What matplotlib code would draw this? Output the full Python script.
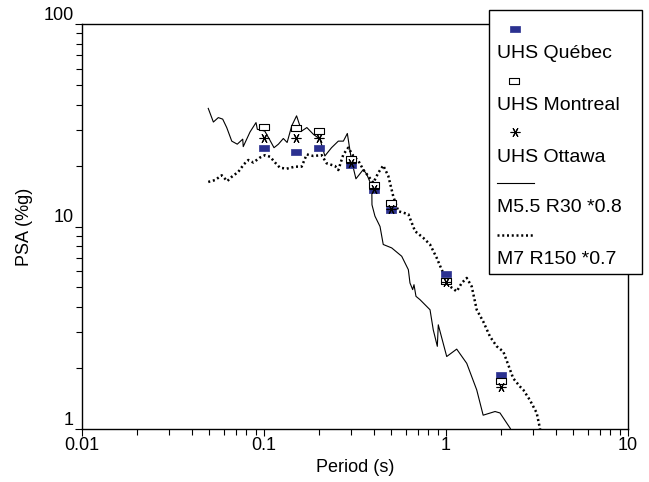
import matplotlib
matplotlib.use('Agg')
import matplotlib.pyplot as plt
from matplotlib.lines import Line2D
from matplotlib.patches import Rectangle
from matplotlib.ticker import NullFormatter

plt.rcParams['font.family'] = ['Liberation Sans', 'DejaVu Sans']

# UHS points
uhs_period = [0.1, 0.15, 0.2, 0.3, 0.4, 0.5, 1.0, 2.0]
uhs_quebec = [24.3, 23.2, 24.3, 20.2, 15.2, 12.0, 5.8, 1.84]
uhs_montreal = [31.0, 30.5, 29.5, 21.5, 16.1, 13.1, 5.4, 1.73]
uhs_ottawa = [27.5, 27.4, 27.3, 20.5, 15.4, 12.2, 5.3, 1.62]

# M5.5 R30 *0.8
m55_period = [0.0494, 0.0527, 0.0561, 0.0593, 0.0624, 0.0665, 0.0713, 0.0764, 0.0769, 0.0838,
              0.0904, 0.0919, 0.101, 0.107, 0.1135, 0.120, 0.1277, 0.134, 0.142, 0.151,
              0.161, 0.172, 0.187, 0.203, 0.216, 0.235, 0.256, 0.273, 0.287, 0.297,
              0.303, 0.320, 0.351, 0.367, 0.391, 0.392, 0.407, 0.434, 0.452, 0.503,
              0.571, 0.621, 0.634, 0.656, 0.667, 0.684, 0.72, 0.817, 0.851, 0.896,
              0.907, 1.009, 1.145, 1.30, 1.475, 1.60, 1.86, 1.98, 2.25, 2.4]
m55_psa = [38.3, 32.8, 34.5, 33.9, 30.8, 26.4, 25.5, 27.0, 24.8, 29.3,
           32.6, 30.2, 29.6, 27.0, 24.5, 25.5, 27.2, 26.0, 31.4, 35.2,
           29.6, 30.8, 28.5, 27.0, 22.3, 24.5, 26.4, 26.4, 28.8, 23.6,
           21.1, 17.2, 19.1, 18.1, 15.8, 12.8, 11.25, 10.0, 8.15, 7.84,
           7.13, 6.12, 5.26, 4.88, 5.16, 4.52, 4.35, 3.88, 3.09, 2.56,
           3.27, 2.28, 2.48, 2.11, 1.56, 1.17, 1.22, 1.20, 1.01, 0.9]

# M7 R150 *0.7
m7_period = [0.0494, 0.0538, 0.0586, 0.0628, 0.0665, 0.0722, 0.0776, 0.082, 0.0874, 0.095,
             0.1013, 0.108, 0.115, 0.1224, 0.1333, 0.148, 0.161, 0.1717, 0.1866, 0.2075,
             0.221, 0.2455, 0.256, 0.273, 0.2905, 0.3096, 0.330, 0.351, 0.374, 0.399,
             0.425, 0.452, 0.482, 0.513, 0.547, 0.621, 0.676, 0.750, 0.817, 0.889,
             0.947, 0.987, 1.052, 1.145, 1.22, 1.30, 1.384, 1.475, 1.60, 1.745,
             1.90, 2.065, 2.20, 2.34, 2.55, 2.66, 2.89, 3.15, 3.28, 3.35]
m7_psa = [16.6, 16.95, 17.9, 16.75, 17.6, 18.6, 20.3, 21.3, 20.7, 21.9,
          22.5, 22.1, 20.7, 19.5, 19.3, 19.75, 19.75, 22.7, 22.3, 22.5,
          20.5, 19.9, 19.0, 22.7, 24.5, 22.3, 21.1, 19.1, 17.75, 16.45,
          18.45, 20.0, 17.75, 14.1, 11.9, 11.5, 9.48, 8.79, 8.15, 7.0,
          6.12, 5.67, 5.06, 4.78, 5.26, 5.57, 5.06, 3.88, 3.40, 2.86,
          2.56, 2.41, 2.07, 1.78, 1.62, 1.56, 1.39, 1.20, 1.01, 0.9]

x_ticks = [0.01, 0.1, 1, 10]
x_ticklabels = ['0.01', '0.1', '1', '10']
y_ticks = [1, 10, 100]
y_ticklabels = ['1', '10', '100']

labels = ['UHS Québec', 'UHS Montreal', 'UHS Ottawa', 'M5.5 R30 *0.8', 'M7 R150 *0.7']

W, H = 649, 482
blue = '#2b3190'
rect = [(-1, -0.62), (1, -0.62), (1, 0.62), (-1, 0.62), (-1, -0.62)]
star = (6, 2, 90)
dots = (0, (0.8, 1.1))

fig = plt.figure(figsize=(W / 100, H / 100), dpi=100)
ax = fig.add_axes([82 / W, 1 - 429 / H, (628 - 82) / W, (429 - 24) / H])

ax.plot(m55_period, m55_psa, color='black', lw=0.8)
ax.plot(m7_period, m7_psa, color='black', lw=1.8, linestyle=dots)
ax.plot(uhs_period, uhs_quebec, linestyle='none', marker=rect, ms=7.5,
        mfc=blue, mec=blue, mew=0.5)
ax.plot(uhs_period, uhs_montreal, linestyle='none', marker=rect, ms=7.5,
        mfc='white', mec='black', mew=0.8)
ax.plot(uhs_period, uhs_ottawa, linestyle='none', marker=star, ms=7,
        color='black', mew=0.8)

ax.set_xscale('log')
ax.set_yscale('log')
ax.set_xlim(0.01, 10)
ax.set_ylim(1, 100)
ax.set_xticks(x_ticks, x_ticklabels)
ax.set_yticks(y_ticks, y_ticklabels)
ax.xaxis.set_minor_formatter(NullFormatter())
ax.yaxis.set_minor_formatter(NullFormatter())
ax.tick_params(which='major', direction='out', length=5, width=0.8, labelsize=13, pad=1)
ax.tick_params(which='minor', direction='out', length=4, width=0.8)
for t in ax.get_yticklabels():
    t.set_verticalalignment('bottom')
for s in ax.spines.values():
    s.set_linewidth(1.0)

ax.set_xlabel('Period (s)', fontsize=13)
ax.set_ylabel('PSA (%g)', fontsize=13)
ax.xaxis.set_label_coords(0.5, -0.075)
ax.yaxis.set_label_coords(-0.09, 0.5)


# legend box, handle above each label
def fx(px):
    return px / W


def fy(py):
    return 1 - py / H


box = Rectangle((fx(489), fy(274)), fx(642) - fx(489), fy(10) - fy(274),
                transform=fig.transFigure, facecolor='white', edgecolor='black',
                lw=1.0, zorder=5)
fig.add_artist(box)

fig.add_artist(Line2D([fx(515)], [fy(29)], transform=fig.transFigure, linestyle='none',
                      marker=rect, ms=7.5, mfc=blue, mec=blue, mew=0.5, zorder=6))
fig.add_artist(Line2D([fx(514)], [fy(81)], transform=fig.transFigure, linestyle='none',
                      marker=rect, ms=7, mfc='white', mec='black', mew=0.8, zorder=6))
fig.add_artist(Line2D([fx(515)], [fy(132)], transform=fig.transFigure, linestyle='none',
                      marker=star, ms=7, color='black', mew=0.8, zorder=6))
fig.add_artist(Line2D([fx(497), fx(534)], [fy(183), fy(183)], transform=fig.transFigure,
                      color='black', lw=0.8, zorder=6))
fig.add_artist(Line2D([fx(497), fx(534)], [fy(235), fy(235)], transform=fig.transFigure,
                      color='black', lw=1.8, linestyle=dots, zorder=6))

for lab, py in zip(labels, [53, 106, 157, 208, 259]):
    fig.text(fx(497), fy(py), lab, ha='left', va='center', fontsize=14, zorder=7)

fig.savefig('out.png', dpi=100)
